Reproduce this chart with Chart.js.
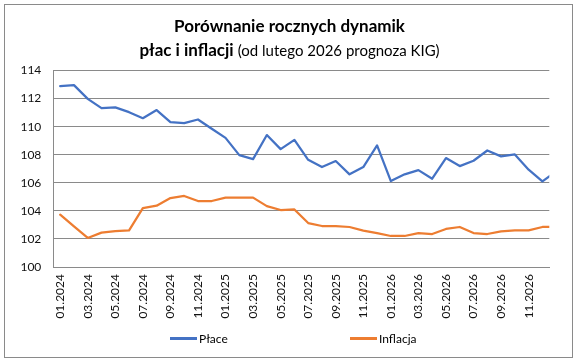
<!DOCTYPE html>
<html>
<head>
<meta charset="utf-8">
<script src="https://cdn.jsdelivr.net/npm/chart.js@4/dist/chart.umd.min.js"></script>
<style>
  html, body { margin: 0; padding: 0; background: #fff; }
  #wrap { position: relative; width: 579px; height: 360px; overflow: hidden; }
  #frame { position: absolute; left: 4px; top: 4px; width: 569px; height: 354px; box-sizing: border-box; border: 1px solid #8a8a8a; pointer-events: none; }
  #title { position: absolute; left: 0; top: 14px; width: 579px; text-align: center; font-family: Lato, "Open Sans", sans-serif; color: #000; line-height: 24px; }
  #title .l1 { font-weight: bold; font-size: 17px; }
  #title .b { font-weight: bold; font-size: 17px; }
  #title .n { font-weight: normal; font-size: 15px; }
  #legend { position: absolute; top: 331px; left: 0; width: 579px; font-family: Lato, "Open Sans", sans-serif; font-size: 12px; color: #000; }
  .item { position: absolute; top: 0; height: 16px; line-height: 16px; white-space: nowrap; }
  .swatch { display: inline-block; width: 27px; height: 3px; vertical-align: middle; margin-right: 2px; position: relative; top: -1px; }
  canvas { position: absolute; left: 0; top: 0; }
</style>
</head>
<body>
<div id="wrap">
  <canvas id="c" width="579" height="360"></canvas>
  <div id="title">
    <div class="l1">Porównanie rocznych dynamik</div>
    <div><span class="b">płac i inflacji</span> <span class="n">(od lutego 2026 prognoza KIG)</span></div>
  </div>
  <div id="legend"></div>
  <div id="frame"></div>
</div>
<script>
// Months; the final one (01.2027) only continues the line past the right edge, as in the source
const months = [
  "01.2024","02.2024","03.2024","04.2024","05.2024","06.2024","07.2024","08.2024","09.2024","10.2024","11.2024","12.2024",
  "01.2025","02.2025","03.2025","04.2025","05.2025","06.2025","07.2025","08.2025","09.2025","10.2025","11.2025","12.2025",
  "01.2026","02.2026","03.2026","04.2026","05.2026","06.2026","07.2026","08.2026","09.2026","10.2026","11.2026","12.2026",
  "01.2027"
];
const shownMonths = 36;

const place = [
  112.88, 112.96, 111.98, 111.32, 111.37, 111.03, 110.60, 111.18, 110.32, 110.25, 110.51, 109.85,
  109.20, 107.97, 107.69, 109.40, 108.40, 109.06, 107.64, 107.12, 107.55, 106.60, 107.12, 108.66,
  106.12, 106.60, 106.90, 106.29, 107.76, 107.19, 107.57, 108.30, 107.88, 108.02, 106.93, 106.10,
  106.80
];
const inflacja = [
  103.73, 102.90, 102.07, 102.45, 102.56, 102.61, 104.20, 104.37, 104.91, 105.06, 104.70, 104.70,
  104.94, 104.94, 104.94, 104.34, 104.06, 104.10, 103.13, 102.92, 102.92, 102.85, 102.59, 102.42,
  102.21, 102.21, 102.42, 102.35, 102.71, 102.85, 102.42, 102.35, 102.54, 102.61, 102.61, 102.85,
  102.85
];

const seriesNames = ["Płace", "Inflacja"];
const seriesColors = ["#4472C4", "#ED7D31"];
const yTicks = { min: 100, max: 114, step: 2 };

const FONT = "Lato, 'Open Sans', sans-serif";
const textColor = "#111";
const gridColor = "#8a8a8a";

// HTML legend
const legendEl = document.getElementById('legend');
const legendLefts = [170, 350];
seriesNames.forEach((n, i) => {
  const d = document.createElement('div');
  d.className = 'item';
  d.style.left = legendLefts[i] + 'px';
  d.innerHTML = '<span class="swatch" style="background:' + seriesColors[i] + '"></span>' + n;
  legendEl.appendChild(d);
});

const toPoints = arr => arr.map((v, i) => ({ x: i, y: v }));

new Chart(document.getElementById('c'), {
  type: 'line',
  data: {
    datasets: [
      { label: seriesNames[0], data: toPoints(place), borderColor: seriesColors[0], backgroundColor: seriesColors[0],
        borderWidth: 2.25, pointRadius: 0, tension: 0, borderJoinStyle: 'round', borderCapStyle: 'round' },
      { label: seriesNames[1], data: toPoints(inflacja), borderColor: seriesColors[1], backgroundColor: seriesColors[1],
        borderWidth: 2.25, pointRadius: 0, tension: 0, borderJoinStyle: 'round', borderCapStyle: 'round' }
    ]
  },
  options: {
    responsive: false,
    animation: false,
    events: [],
    layout: { padding: { top: 70.5, left: 8, right: 29.7, bottom: 40 } },
    plugins: { legend: { display: false }, title: { display: false }, tooltip: { enabled: false } },
    scales: {
      x: {
        type: 'linear',
        min: -0.5,
        max: shownMonths - 0.5,
        grid: { display: false, drawTicks: false },
        border: { display: true, color: gridColor, width: 1 },
        afterBuildTicks: s => {
          const t = [];
          for (let i = 0; i < shownMonths; i += 2) t.push({ value: i });
          s.ticks = t;
        },
        ticks: {
          autoSkip: false, maxRotation: 90, minRotation: 90, padding: 7,
          color: textColor, font: { family: FONT, size: 12 },
          callback: v => months[v] || ''
        },
        afterFit: s => { s.height = 53; }
      },
      y: {
        min: yTicks.min, max: yTicks.max,
        grid: { color: gridColor, lineWidth: 1, drawTicks: false },
        border: { display: true, color: gridColor, width: 1 },
        ticks: { stepSize: yTicks.step, padding: 12, color: textColor, font: { family: FONT, size: 12 } },
        afterFit: s => { s.width = 45.3; }
      }
    }
  }
});
</script>
</body>
</html>
